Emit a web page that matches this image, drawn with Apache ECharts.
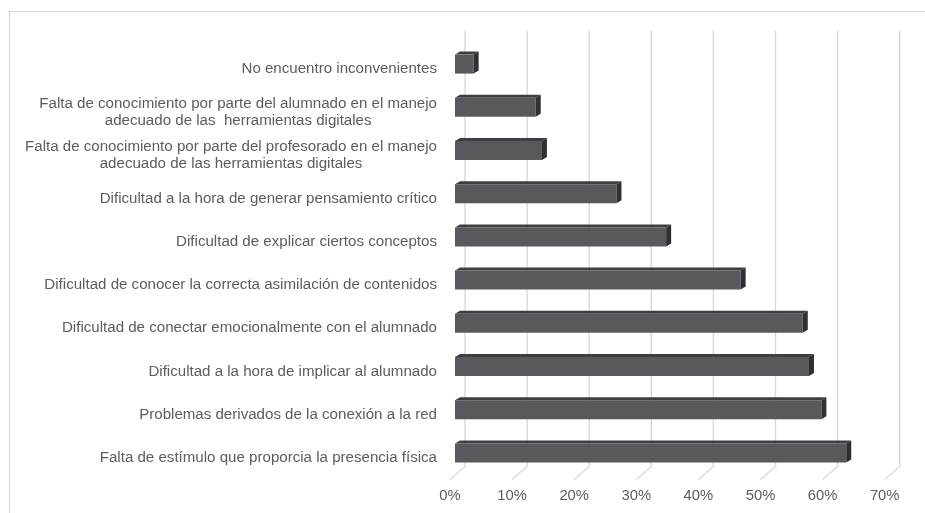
<!DOCTYPE html>
<html>
<head>
<meta charset="utf-8">
<script src="https://cdn.jsdelivr.net/npm/echarts@6/dist/echarts.min.js"></script>
<style>
  html, body { margin: 0; padding: 0; background: #ffffff; }
  #chart { width: 925px; height: 513px; }
</style>
</head>
<body>
<div id="chart"></div>
<script>
// Categories, top to bottom
const categories = [
  'No encuentro inconvenientes',
  'Falta de conocimiento por parte del alumnado en el manejo\nadecuado de las  herramientas digitales',
  'Falta de conocimiento por parte del profesorado en el manejo\nadecuado de las herramientas digitales',
  'Dificultad a la hora de generar pensamiento crítico',
  'Dificultad de explicar ciertos conceptos',
  'Dificultad de conocer la correcta asimilación de contenidos',
  'Dificultad de conectar emocionalmente con el alumnado',
  'Dificultad a la hora de implicar al alumnado',
  'Problemas derivados de la conexión a la red',
  'Falta de estímulo que proporcia la presencia física'
];

// Percentage of answers per category
const percentages = [3, 13, 14, 26, 34, 46, 56, 57, 59, 63];

// Value axis ticks (percent)
const xTicks = [0, 10, 20, 30, 40, 50, 60, 70];

const TEXT_COLOR = '#5c5c5c';
const FONT = '"Liberation Sans", Arial, sans-serif';
const LABEL_SIZE = 15.1;

// Depth geometry of the pseudo-3D plot
const BAR_SHIFT_X = 5;    // bars sit slightly behind the floor front edge
const BAR_SHIFT_Y = -5;
const BAR_H = 19;
const DEPTH_X = 5;
const DEPTH_Y = 3;
const WALL_X = 15;        // back wall offset from the floor front edge
const FLOOR_DROP = 13;

const chart = echarts.init(document.getElementById('chart'), null, { renderer: 'canvas' });

function renderBar(params, api) {
  const cat = api.value(0);
  const v = api.value(1);
  const p0 = api.coord([0, cat]);
  const p1 = api.coord([v, cat]);
  const x0 = p0[0] + BAR_SHIFT_X;
  const x1 = p1[0] + BAR_SHIFT_X;
  const yc = p0[1] + BAR_SHIFT_Y;
  const top = yc - BAR_H / 2;
  const bottom = yc + BAR_H / 2;
  return {
    type: 'group',
    children: [
      {
        type: 'polygon',
        shape: { points: [[x0, top], [x0 + DEPTH_X, top - DEPTH_Y], [x1 + DEPTH_X, top - DEPTH_Y], [x1, top]] },
        style: { fill: '#3d3e41' }
      },
      {
        type: 'rect',
        shape: { x: x0, y: top, width: x1 - x0, height: BAR_H },
        style: { fill: '#58595c' }
      },
      {
        type: 'polygon',
        shape: { points: [[x1, top], [x1 + DEPTH_X, top - DEPTH_Y], [x1 + DEPTH_X, bottom - DEPTH_Y], [x1, bottom]] },
        style: { fill: '#2f3033' }
      }
    ]
  };
}

function renderGridLine(params, api) {
  const v = api.value(0);
  const cs = params.coordSys;
  const xf = api.coord([v, 0])[0];
  const xb = xf + WALL_X;
  const yTop = cs.y - 17;
  const yFloor = cs.y + cs.height;
  return {
    type: 'polyline',
    shape: { points: [[xb, yTop], [xb, yFloor - FLOOR_DROP], [xf, yFloor]] },
    style: { stroke: '#d9d9d9', lineWidth: 1.4, fill: null }
  };
}

const option = {
  backgroundColor: '#ffffff',
  animation: false,
  textStyle: { fontFamily: FONT },
  grid: { left: 450, right: 40.3, top: 47.5, bottom: 33.5, containLabel: false },
  graphic: [
    {
      type: 'polyline',
      shape: { points: [[9.5, 520], [9.5, 11.5], [930, 11.5]] },
      style: { stroke: '#d4d4d4', lineWidth: 1.2, fill: null },
      silent: true
    }
  ],
  xAxis: {
    type: 'value',
    min: 0,
    max: 70,
    interval: 10,
    axisLine: { show: false },
    axisTick: { show: false },
    splitLine: { show: false },
    axisLabel: {
      formatter: '{value}%',
      color: TEXT_COLOR,
      fontSize: 14.8,
      fontFamily: FONT,
      margin: 9
    }
  },
  yAxis: {
    type: 'category',
    inverse: true,
    data: categories,
    axisLine: { show: false },
    axisTick: { show: false },
    splitLine: { show: false },
    axisLabel: {
      margin: 13,
      color: TEXT_COLOR,
      fontSize: LABEL_SIZE,
      fontFamily: FONT,
      lineHeight: 17,
      formatter: function (value) {
        return value.split('\n').map(function (l) { return '{c|' + l + '}'; }).join('\n');
      },
      rich: {
        c: { align: 'center', color: TEXT_COLOR, fontSize: LABEL_SIZE, fontFamily: FONT, lineHeight: 17 }
      }
    }
  },
  series: [
    {
      type: 'custom',
      name: 'grid',
      silent: true,
      z: 1,
      renderItem: renderGridLine,
      encode: { x: 0 },
      data: xTicks.map(function (t) { return [t]; })
    },
    {
      type: 'custom',
      name: 'Porcentaje',
      z: 2,
      renderItem: renderBar,
      encode: { x: 1, y: 0 },
      data: percentages.map(function (p, i) { return [i, p]; })
    }
  ]
};

chart.setOption(option);
</script>
</body>
</html>
